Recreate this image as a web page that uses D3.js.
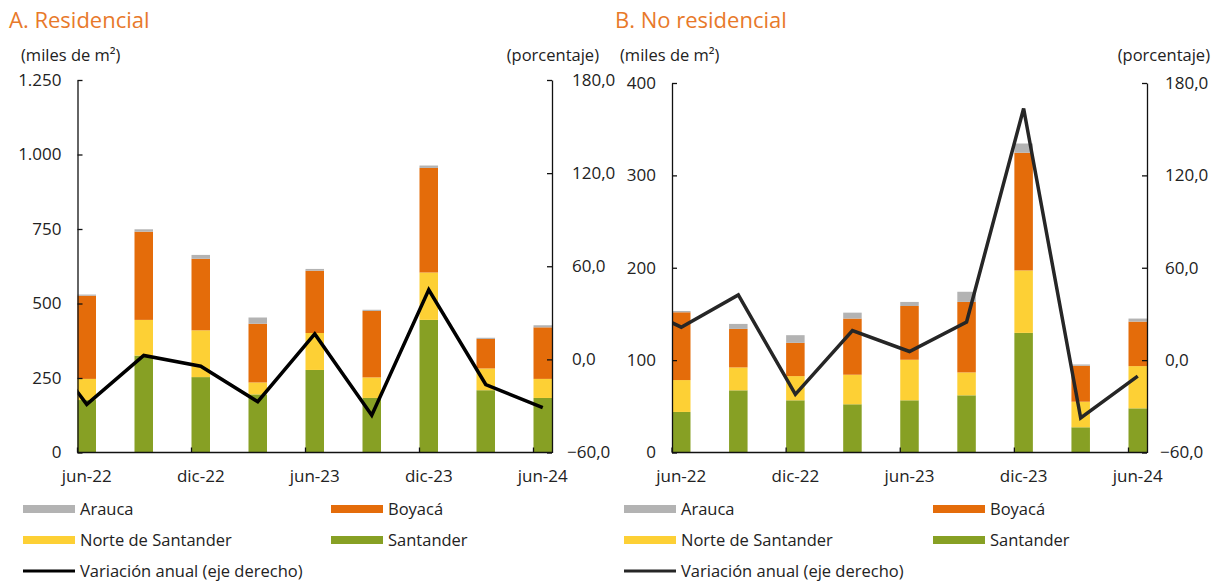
<!DOCTYPE html>
<html>
<head>
<meta charset="utf-8">
<script src="https://cdn.jsdelivr.net/npm/d3@7"></script>
<style>
  body { margin: 0; background: #fff; }
  svg { display: block; }
  text { font-family: "Open Sans", Lato, sans-serif; fill: #222; }
</style>
</head>
<body>
<svg id="chart" width="1217" height="582"></svg>
<script>
// trimestres (mar-22 solo alimenta el tramo de la línea que queda recortado)
const periods = ['jun-22', 'sep-22', 'dic-22', 'mar-23', 'jun-23', 'sep-23', 'dic-23', 'mar-24', 'jun-24']
const linePeriods = ['mar-22'].concat(periods)
const tickLabels = ['jun-22', 'dic-22', 'jun-23', 'dic-23', 'jun-24']
const seriesNames = ['Santander', 'Norte de Santander', 'Boyacá', 'Arauca']

// A. Residencial (miles de m2)
const resSantander = [176, 325, 253, 195, 277, 183, 445, 209, 183]
const resNorte = [71, 120, 157, 40, 124, 69, 159, 73, 64]
const resBoyaca = [279, 296, 240, 197, 209, 223, 351, 99, 173]
const resArauca = [4, 8, 13, 21, 6, 4, 8, 4, 7]
const resVariacion = [20, -29.0, 2.5, -4.4, -27.3, 16.4, -36.0, 44.8, -16.2, -31.1]

// B. No residencial (miles de m2)
const noresSantander = [43.9, 67.3, 56.5, 52.2, 56.5, 61.9, 129.5, 27.3, 47.8]
const noresNorte = [34.5, 24.8, 26.2, 32.0, 43.9, 24.8, 67.6, 27.7, 45.7]
const noresBoyaca = [73.4, 41.7, 36.0, 60.8, 58.2, 76.3, 127.4, 38.9, 48.2]
const noresArauca = [1.4, 5.4, 8.3, 6.4, 4.4, 11.0, 10.0, 1.4, 3.3]
const noresVariacion = [39, 21.4, 42.3, -22.2, 19.2, 5.6, 24.8, 163.4, -37.6, -10.4]

const colors = {
    'Santander': '#87a024',
    'Norte de Santander': '#fdd035',
    'Boyacá': '#e46c0a',
    'Arauca': '#b3b3b3',
}

const locale = d3.formatLocale({ decimal: ',', thousands: '.', grouping: [3], currency: ['$', ''] })
const fmtInt = locale.format(',d')
const fmtPct = locale.format('.1f')

const svg = d3.select('#chart')

function drawPanel(opt) {
    const { x0, x1, yTop, yBot, bw } = opt
    const g = svg.append('g')

    // tabla para el apilado
    const rows = periods.map((p, i) => {
        const r = { period: p }
        seriesNames.forEach((s, k) => { r[s] = opt.values[k][i] })
        return r
    })
    const stacked = d3.stack().keys(seriesNames)(rows)

    const step = (x1 - x0 - bw) / (periods.length - 1)
    const x = d3.scalePoint()
        .domain(linePeriods)
        .range([x0 + bw / 2 - step, x1 - bw / 2])
    const y = d3.scaleLinear().domain(opt.yDomain).range([yBot, yTop])
    const y2 = d3.scaleLinear().domain([-60, 180]).range([yBot, yTop])

    // barras apiladas
    g.selectAll('g.serie')
        .data(stacked)
        .join('g')
        .attr('class', 'serie')
        .attr('fill', d => colors[d.key])
        .selectAll('rect')
        .data(d => d)
        .join('rect')
        .attr('x', d => x(d.data.period) - bw / 2)
        .attr('width', bw)
        .attr('y', d => y(d[1]))
        .attr('height', d => y(d[0]) - y(d[1]))

    // línea de variación anual (eje derecho)
    const clipId = `clip-${opt.id}`
    svg.append('clipPath').attr('id', clipId)
        .append('rect')
        .attr('x', x0).attr('y', 0)
        .attr('width', x1 - x0).attr('height', yBot + 10)

    g.append('path')
        .datum(opt.line)
        .attr('clip-path', `url(#${clipId})`)
        .attr('fill', 'none')
        .attr('stroke', opt.lineColor)
        .attr('stroke-width', 3.5)
        .attr('stroke-linejoin', 'miter')
        .attr('d', d3.line()
            .x((d, i) => x(linePeriods[i]))
            .y(d => y2(d)))

    // eje izquierdo
    const axL = g.append('g')
        .attr('transform', `translate(${x0},0)`)
        .call(d3.axisLeft(y)
            .tickValues(opt.yTicks)
            .tickFormat(fmtInt)
            .tickSize(-5)
            .tickSizeOuter(0)
            .tickPadding(16))
    // eje derecho
    const axR = g.append('g')
        .attr('transform', `translate(${x1},0)`)
        .call(d3.axisRight(y2)
            .tickValues([-60, 0, 60, 120, 180])
            .tickFormat(fmtPct)
            .tickSize(-5)
            .tickSizeOuter(0)
            .tickPadding(opt.rightPad))
    axR.selectAll('.tick text')
        .attr('dx', d => (d < 0 ? -5 : 0))

    ;[axL, axR].forEach((ax) => {
        ax.select('.domain').attr('stroke', '#111').attr('stroke-width', 1.3)
        ax.selectAll('.tick line').attr('stroke', '#111').attr('stroke-width', 1.3)
        ax.selectAll('.tick text')
            .style('font-family', '"Open Sans", Lato, sans-serif')
            .style('font-size', '17px')
            .attr('fill', '#222')
    })

    // eje x
    g.append('line')
        .attr('x1', x0).attr('x2', x1)
        .attr('y1', yBot).attr('y2', yBot)
        .attr('stroke', '#111').attr('stroke-width', 1.3)
    g.selectAll('line.xtick')
        .data(tickLabels)
        .join('line')
        .attr('class', 'xtick')
        .attr('x1', d => x(d) - bw / 2).attr('x2', d => x(d) - bw / 2)
        .attr('y1', yBot).attr('y2', yBot - 5)
        .attr('stroke', '#111').attr('stroke-width', 1.3)
    g.selectAll('text.xlab')
        .data(tickLabels)
        .join('text')
        .attr('class', 'xlab')
        .attr('x', d => x(d))
        .attr('y', 482)
        .attr('text-anchor', 'middle')
        .style('font-size', '17px')
        .text(d => d)

    // títulos
    g.append('text')
        .attr('x', opt.titleX).attr('y', 28)
        .style('font-size', '22px')
        .style('fill', '#e8792a')
        .text(opt.title)
    g.append('text')
        .attr('x', opt.unitX).attr('y', 61)
        .style('font-size', '16.5px')
        .text('(miles de m²)')
    g.append('text')
        .attr('x', opt.pctX).attr('y', 61)
        .attr('text-anchor', 'end')
        .style('font-size', '16.5px')
        .text('(porcentaje)')

    // leyenda
    const legendItems = [
        { name: 'Arauca', col: 0, row: 0 },
        { name: 'Boyacá', col: 1, row: 0 },
        { name: 'Norte de Santander', col: 0, row: 1 },
        { name: 'Santander', col: 1, row: 1 },
        { name: 'Variación anual (eje derecho)', col: 0, row: 2, line: true },
    ]
    const rowY = [509, 540, 571]
    const lg = g.selectAll('g.leg')
        .data(legendItems)
        .join('g')
        .attr('class', 'leg')
        .attr('transform', d => `translate(${opt.legendX[d.col]},${rowY[d.row]})`)
    lg.append('rect')
        .attr('x', 0)
        .attr('y', d => (d.line ? -1.5 : -4))
        .attr('width', 52)
        .attr('height', d => (d.line ? 3 : 8))
        .attr('fill', d => (d.line ? opt.lineColor : colors[d.name]))
    lg.append('text')
        .attr('x', 57)
        .attr('y', 6)
        .style('font-size', '16.5px')
        .text(d => d.name)
}

drawPanel({
    id: 'res',
    x0: 77.5, x1: 552, yTop: 80, yBot: 452.5, bw: 18.5,
    yDomain: [0, 1250], yTicks: [0, 250, 500, 750, 1000, 1250],
    values: [resSantander, resNorte, resBoyaca, resArauca],
    line: resVariacion,
    lineColor: '#000',
    rightPad: 20,
    title: 'A. Residencial', titleX: 9, unitX: 21, pctX: 599,
    legendX: [23, 331],
})

drawPanel({
    id: 'nores',
    x0: 672, x1: 1147, yTop: 83, yBot: 452.5, bw: 18.5,
    yDomain: [0, 400], yTicks: [0, 100, 200, 300, 400],
    values: [noresSantander, noresNorte, noresBoyaca, noresArauca],
    line: noresVariacion,
    lineColor: '#262626',
    rightPad: 18,
    title: 'B. No residencial', titleX: 615, unitX: 620, pctX: 1210,
    legendX: [624, 933],
})
</script>
</body>
</html>
